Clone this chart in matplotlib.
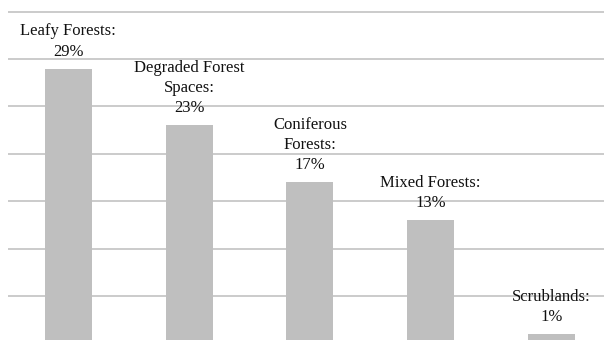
import matplotlib.pyplot as plt

categories = ['Leafy Forests:', 'Degraded Forest\nSpaces:', 'Coniferous\nForests:',
              'Mixed Forests:', 'Scrublands:']
values = [29, 23, 17, 13, 1]
grid_levels = [5, 10, 15, 20, 25, 30, 35]

plt.rcParams['font.family'] = ['Liberation Serif', 'DejaVu Serif']

fig = plt.figure(figsize=(6.04, 3.40), dpi=100)
ax = fig.add_axes([8 / 604, 0, 603.75 / 604, 1])

x = list(range(len(values)))
ax.bar(x, values, width=0.39, color='#bfbfbf', zorder=2)

for lvl in grid_levels:
    ax.axhline(lvl, color='#bdbdbd', linewidth=1.1, zorder=1)

for xi, cat, v in zip(x, categories, values):
    ax.annotate(f'{cat}\n{v}%', (xi, v), xytext=(0, 6.5), textcoords='offset points',
                ha='center', va='bottom', fontsize=12, linespacing=1.35,
                color='#111111', zorder=3)

ax.set_xlim(-0.5, 4.5)
ax.set_ylim(0.37, 36.23)
ax.axis('off')

fig.savefig('out.png', dpi=100)
